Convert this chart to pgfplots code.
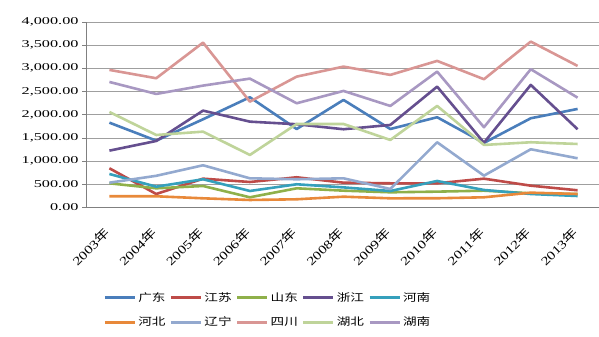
\documentclass[border=0pt]{standalone}
\usepackage{pgfplots}
\pgfplotsset{compat=1.18}
\usepackage{graphicx}
\usepackage{fontspec}
\setmainfont{Liberation Serif}
\newfontfamily\cjk{Noto Sans CJK SC}
\newcommand{\lgtxt}[1]{\scalebox{1.3}[1]{#1}}
\newcommand{\yr}[1]{\rotatebox{45}{\scalebox{1.3}[1]{\fontsize{12}{13}\selectfont #1{\cjk 年}}}}
\definecolor{c1}{HTML}{4A7EBB}
\definecolor{c2}{HTML}{BE4B48}
\definecolor{c3}{HTML}{8FB04A}
\definecolor{c4}{HTML}{654F8F}
\definecolor{c5}{HTML}{35A0BC}
\definecolor{c6}{HTML}{E8893A}
\definecolor{c7}{HTML}{93A9CF}
\definecolor{c8}{HTML}{D99694}
\definecolor{c9}{HTML}{BFD49A}
\definecolor{c10}{HTML}{A898C2}
\pgfplotstableread{
x gd js sd zj hn hb ln sc hub hun
0 1827 842 518 1223 719 238 531 2966 2058 2706
1 1439 287 410 1432 445 238 680 2786 1561 2447
2 1900 618 460 2087 605 194 907 3555 1633 2627
3 2376 546 216 1849 352 158 626 2281 1130 2778
4 1690 648 410 1793 497 173 605 2821 1799 2246
5 2318 531 359 1685 430 229 626 3037 1799 2512
6 1690 518 324 1778 352 194 395 2858 1454 2188
7 1944 518 338 2605 568 195 1404 3160 2188 2929
8 1390 618 359 1395 374 216 683 2765 1346 1728
9 1922 467 302 2642 287 316 1253 3577 1404 2981
10 2123 367 287 1685 244 287 1058 3052 1367 2367
}\datatable
\begin{document}
\begin{tikzpicture}
\useasboundingbox (0,0) rectangle (599bp,337bp);
\begin{axis}[
  at={(86bp,129.7bp)}, anchor=south west,
  scale only axis, width=515bp, height=185.3bp,
  xmin=-0.5, xmax=10.5, ymin=0, ymax=4000,
  ytick={0,500,...,4000},
  yticklabel={\scalebox{1.55}[1]{\pgfmathprintnumber[fixed, fixed zerofill, precision=2, 1000 sep={,}, assume math mode=true]{\tick}}},
  xtick={0,...,10},
  xticklabels={\yr{2003},\yr{2004},\yr{2005},\yr{2006},\yr{2007},\yr{2008},\yr{2009},\yr{2010},\yr{2011},\yr{2012},\yr{2013}},
  minor xtick={-0.5,0.5,...,9.5},
  xtick style={draw=none},
  minor x tick style={gray, line width=0.6bp},
  ytick style={gray, line width=0.6bp},
  tick align=outside,
  major tick length=4bp, minor tick length=4bp,
  axis lines*=left,
  axis line style={gray, line width=0.6bp},
  ymajorgrids,
  grid style={gray!75, line width=0.6bp},
  yticklabel style={font=\fontsize{10.5}{12}\selectfont},
  xticklabel style={anchor=north east, inner sep=0pt, yshift=-15bp, xshift=2bp},
  every axis plot/.append style={line width=2.6bp, line join=round, no markers},
  legend columns=5,
  legend style={at={(0.353,-0.555)}, anchor=center, draw=none, fill=none,
    font=\cjk\fontsize{10.5}{12}\selectfont,
    /tikz/every even column/.append style={column sep=2bp},
    row sep=10bp, nodes={inner sep=2bp}},
  legend image code/.code={\draw[#1,line width=3bp] (0bp,0bp) -- (30bp,0bp);},
]
\addplot[c1] table[x=x,y=gd]{\datatable};
\addlegendentry{\lgtxt{广东}}
\addplot[c2] table[x=x,y=js]{\datatable};
\addlegendentry{\lgtxt{江苏}}
\addplot[c3] table[x=x,y=sd]{\datatable};
\addlegendentry{\lgtxt{山东}}
\addplot[c4] table[x=x,y=zj]{\datatable};
\addlegendentry{\lgtxt{浙江}}
\addplot[c5] table[x=x,y=hn]{\datatable};
\addlegendentry{\lgtxt{河南}}
\addplot[c6] table[x=x,y=hb]{\datatable};
\addlegendentry{\lgtxt{河北}}
\addplot[c7] table[x=x,y=ln]{\datatable};
\addlegendentry{\lgtxt{辽宁}}
\addplot[c8] table[x=x,y=sc]{\datatable};
\addlegendentry{\lgtxt{四川}}
\addplot[c9] table[x=x,y=hub]{\datatable};
\addlegendentry{\lgtxt{湖北}}
\addplot[c10] table[x=x,y=hun]{\datatable};
\addlegendentry{\lgtxt{湖南}}
\end{axis}
\end{tikzpicture}
\end{document}
